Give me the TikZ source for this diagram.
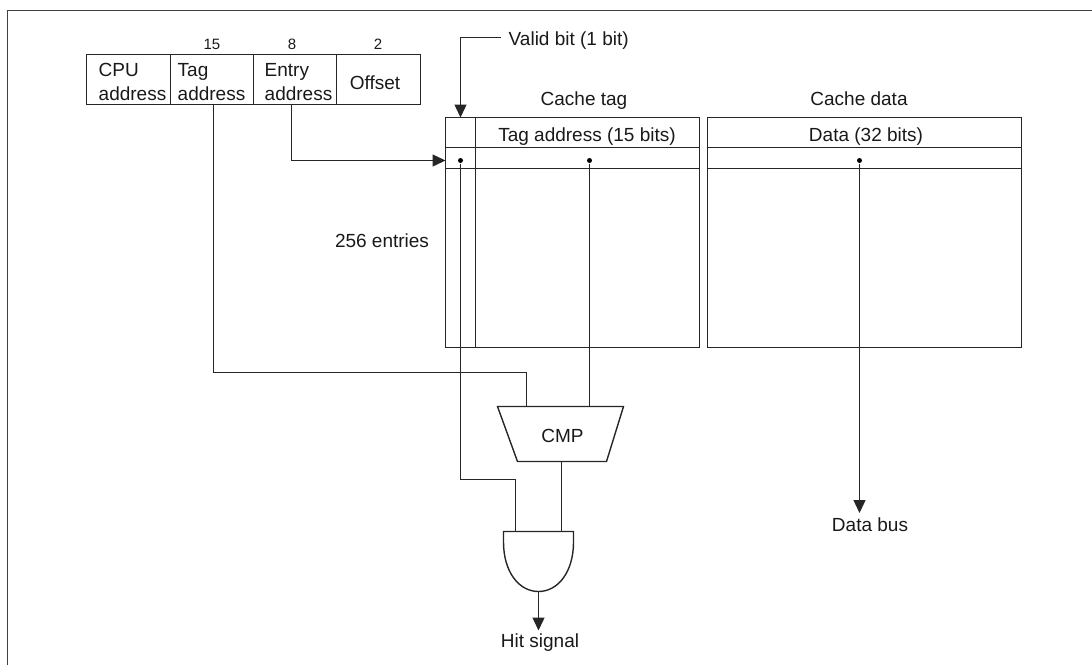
\documentclass[tikz,border=0pt]{standalone}
\usepackage{fontspec}
\setmainfont{Liberation Sans}
\usetikzlibrary{arrows.meta}
\begin{document}
\begin{tikzpicture}[x=1pt,y=-1pt,line width=1.4pt,color=black!85,
  lbl/.style={anchor=base,inner sep=0pt,font=\fontsize{19}{24}\selectfont,text=black!90},
  lbw/.style={lbl,anchor=base west},
  num/.style={anchor=base,inner sep=0pt,font=\fontsize{15}{18}\selectfont,text=black!90},
  sig/.style={-{Triangle[length=13pt,width=12pt]}},
  dot/.style={circle,fill=black,inner sep=0pt,minimum size=5pt}]
\path[use as bounding box] (0,0) rectangle (1092,665);
\draw[line width=1.6pt,black!75] (7.5,665) -- (7.5,10.5) -- (1092,10.5);
% address register
\draw (86.5,54.5) rectangle (420.5,104.5);
\draw (170.5,54.5) -- (170.5,104.5);
\draw (253.5,54.5) -- (253.5,104.5);
\draw (336.5,54.5) -- (336.5,104.5);
\node[num] (n15) at (212,49) {15};
\node[num] (n8) at (292,49) {8};
\node[num] (n2) at (378,49) {2};
\node[lbw] (cpu) at (98,76) {CPU};
\node[lbw] (cpuaddr) at (98,100) {address};
\node[lbw] (tag) at (177,76) {Tag};
\node[lbw] (tagaddr) at (177,100) {address};
\node[lbw] (entry) at (264,76) {Entry};
\node[lbw] (entryaddr) at (264,100) {address};
\node[lbl] (offset) at (375,89) {Offset};
\coordinate (tagout) at (213.5,104.5);
\coordinate (entryout) at (291.5,104.5);
% cache tag
\draw (445.5,117.5) rectangle (699.5,347.5);
\draw (475.5,117.5) -- (475.5,347.5);
\draw (445.5,147.5) -- (699.5,147.5);
\draw (445.5,168.5) -- (699.5,168.5);
\node[lbl] (cachetag) at (584,105.5) {Cache tag};
\node[lbl] (tagbits) at (587,141) {Tag address (15 bits)};
% cache data
\draw (707.5,117.5) rectangle (1021.5,347.5);
\draw (707.5,147.5) -- (1021.5,147.5);
\draw (707.5,168.5) -- (1021.5,168.5);
\node[lbl] (cachedata) at (859,105.5) {Cache data};
\node[lbl] (databits) at (866,141) {Data (32 bits)};
\node[lbl] (entries) at (382,247) {256 entries};
\node[lbw] (valid) at (508,45) {Valid bit (1 bit)};
\coordinate (validout) at (501,37.5);
\coordinate (validin) at (460.5,117.5);
\draw[sig] (validout) -| (validin);
% entry line
\coordinate (entryin) at (445.5,160.5);
\draw[sig] (entryout) |- (entryin);
\node[dot] (dv) at (460.5,160.5) {};
\node[dot] (dt) at (589.5,160.5) {};
\node[dot] (dd) at (859.5,160.5) {};
% comparator
\draw (497.5,406.5) -- (623.5,406.5) -- (606.5,461.5) -- (517.5,461.5) -- cycle;
\node[lbl] (cmp) at (562.5,442.5) {CMP};
\coordinate (cmpa) at (526.5,406.5);
\coordinate (cmpb) at (589.5,406.5);
\coordinate (cmpout) at (561.5,461.5);
\draw (tagout) -- (213.5,372.5) -| (cmpa);
\draw (dt) -- (cmpb);
% and gate
\draw (503.5,531.5) -- (573.5,531.5) -- (573.5,542) .. controls (573.5,572) and (558,591.5) .. (538.5,591.5) .. controls (519,591.5) and (503.5,572) .. (503.5,542) -- cycle;
\coordinate (anda) at (515.5,531.5);
\coordinate (andb) at (561.5,531.5);
\coordinate (andout) at (538.5,591.5);
\draw (dv) -- (460.5,479.5) -| (anda);
\draw (cmpout) -- (andb);
\node[lbl] (hit) at (540,647.5) {Hit signal};
\node[lbl] (bus) at (870,531) {Data bus};
\draw[sig] (andout) -- (538.5,630.5);
\draw[sig] (dd) -- (859.5,513);
\end{tikzpicture}
\end{document}
